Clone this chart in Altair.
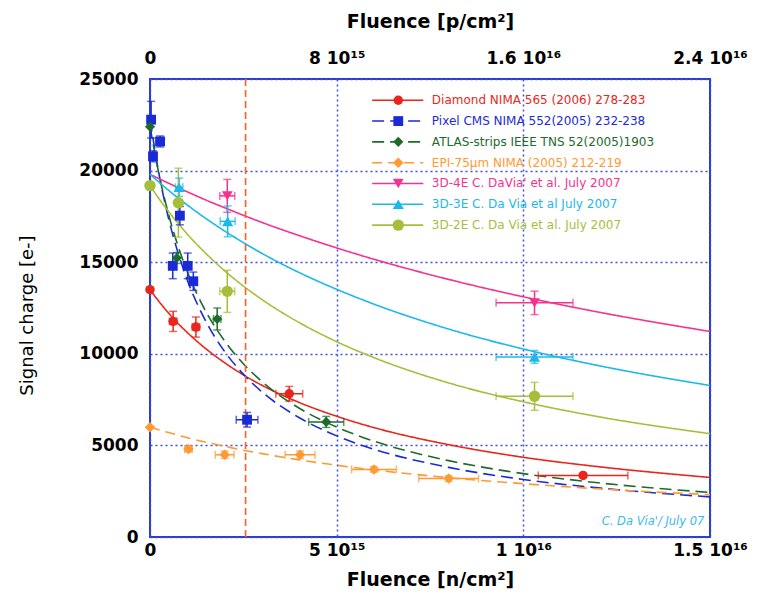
import altair as alt
import pandas as pd

# ---------------- data (fluence in units of 1e15 n/cm2, charge in e-) ----------------
E15 = 1e15

SERIES = [
    "Diamond NIMA 565 (2006) 278-283",
    "Pixel CMS NIMA 552(2005) 232-238",
    "ATLAS-strips IEEE TNS 52(2005)1903",
    "EPI-75µm NIMA (2005) 212-219",
    "3D-4E C. DaVia' et al. July 2007",
    "3D-3E C. Da Via et al July 2007",
    "3D-2E C. Da Via et al. July 2007",
]
COLORS = ["#e8261c", "#1a2bd6", "#1d6b2c", "#ff9a33", "#f4338f", "#1cb8ec", "#a6bf3a"]
SHAPES = ["circle", "square", "diamond", "diamond", "triangle-down", "triangle-up", "circle"]
DASHES = [[1, 0], [12, 6], [12, 6], [10, 6], [1, 0], [1, 0], [1, 0]]
MARKER_SIZES = [90, 130, 90, 70, 120, 110, 110]

# fitted curves
CURVE_X = [0, 0.25, 0.5, 0.75, 1, 1.5, 2, 2.5, 3, 4, 5, 6, 8, 10, 12, 15]
CURVE_DIAMOND = [13500, 12830, 12220, 11660, 11160, 10270, 9510, 8850, 8280, 7340, 6590, 5970, 5040, 4350, 3840, 3250]
CURVE_PIXEL = [22800, 19720, 17370, 15520, 14020, 11760, 10120, 8890, 7920, 6510, 5520, 4790, 3800, 3140, 2680, 2190]
CURVE_ATLAS = [22400, 19700, 17590, 15890, 14480, 12300, 10700, 9460, 8480, 7030, 6000, 5230, 4170, 3460, 2960, 2430]
CURVE_EPI = [6000, 5840, 5700, 5560, 5420, 5170, 4950, 4740, 4550, 4210, 3920, 3660, 3240, 2910, 2630, 2310]
CURVE_3D4E = [19800, 19550, 19310, 19070, 18840, 18390, 17970, 17560, 17170, 16450, 15780, 15160, 14060, 13110, 12280, 11220]
CURVE_3D3E = [19800, 19350, 18920, 18510, 18120, 17380, 16700, 16070, 15480, 14430, 13520, 12710, 11350, 10260, 9360, 8270]
CURVE_3D2E = [19180, 18440, 17760, 17130, 16530, 15470, 14530, 13700, 12960, 11700, 10660, 9790, 8410, 7380, 6570, 5640]

# measured points
DIAMOND_X = [0, 0.62, 1.23, 3.73, 11.6]
DIAMOND_Y = [13500, 11770, 11460, 7820, 3360]
DIAMOND_YERR = [0, 550, 550, 400, 0]
DIAMOND_XERR = [0, 0.1, 0.1, 0.36, 1.2]

PIXEL_X = [0.03, 0.27, 0.08, 0.8, 0.61, 1.01, 1.16, 2.6]
PIXEL_Y = [22780, 21590, 20780, 17540, 14800, 14800, 13960, 6400]
PIXEL_YERR = [1000, 300, 300, 500, 700, 700, 500, 400]
PIXEL_XERR = [0, 0.1, 0, 0, 0.05, 0.05, 0.05, 0.29]

ATLAS_X = [0, 0.72, 1.8, 4.72]
ATLAS_Y = [22400, 15230, 11900, 6280]
ATLAS_YERR = [0, 300, 600, 300]
ATLAS_XERR = [0, 0, 0.1, 0.47]

EPI_X = [0, 1.03, 2.0, 4.02, 6.0, 8.0]
EPI_Y = [5990, 4800, 4490, 4490, 3690, 3190]
EPI_YERR = [0, 150, 200, 200, 150, 150]
EPI_XERR = [0, 0.1, 0.25, 0.4, 0.6, 0.8]

D4E_X = [2.07, 10.3]
D4E_Y = [18620, 12780]
D4E_YERR = [900, 640]
D4E_XERR = [0.2, 1.03]

D3E_X = [0.78, 2.08, 10.3]
D3E_Y = [19090, 17230, 9830]
D3E_YERR = [500, 840, 350]
D3E_XERR = [0.1, 0.2, 1.03]

D2E_X = [0, 0.76, 2.07, 10.3]
D2E_Y = [19180, 18250, 13410, 7680]
D2E_YERR = [0, 1880, 1150, 760]
D2E_XERR = [0, 0.05, 0.2, 1.03]

VLINE_X = [2.56]

X_TICKS = [0, 5e15, 1e16, 1.5e16]
X_LABELS = ["0", "5 10¹⁵", "1 10¹⁶", "1.5 10¹⁶"]
P_TICKS = [0, 8e15, 1.6e16, 2.4e16]
P_LABELS = ["0", "8 10¹⁵", "1.6 10¹⁶", "2.4 10¹⁶"]
Y_TICKS = [0, 5000, 10000, 15000, 20000, 25000]

NOTE = "C. Da Via'/ July 07"

# ---------------- tables ----------------
curves = [CURVE_DIAMOND, CURVE_PIXEL, CURVE_ATLAS, CURVE_EPI, CURVE_3D4E, CURVE_3D3E, CURVE_3D2E]
curve_rows = []
for s, ys in zip(SERIES, curves):
    for i, (x, y) in enumerate(zip(CURVE_X, ys)):
        curve_rows.append({"series": s, "x": x * E15, "y": y, "i": i})
curve_df = pd.DataFrame(curve_rows)

pts = [
    (DIAMOND_X, DIAMOND_Y, DIAMOND_YERR, DIAMOND_XERR),
    (PIXEL_X, PIXEL_Y, PIXEL_YERR, PIXEL_XERR),
    (ATLAS_X, ATLAS_Y, ATLAS_YERR, ATLAS_XERR),
    (EPI_X, EPI_Y, EPI_YERR, EPI_XERR),
    (D4E_X, D4E_Y, D4E_YERR, D4E_XERR),
    (D3E_X, D3E_Y, D3E_YERR, D3E_XERR),
    (D2E_X, D2E_Y, D2E_YERR, D2E_XERR),
]
pt_rows = []
for s, (xs, ys, yes, xes) in zip(SERIES, pts):
    for x, y, ye, xe in zip(xs, ys, yes, xes):
        pt_rows.append({"series": s, "x": x * E15, "y": y,
                        "ylo": y - ye, "yhi": y + ye,
                        "xlo": (x - xe) * E15, "xhi": (x + xe) * E15,
                        "ye": ye, "xe": xe})
pt_df = pd.DataFrame(pt_rows)
yerr_df = pt_df[pt_df["ye"] > 0]
xerr_df = pt_df[pt_df["xe"] > 0]

leg_rows = []
for k, s in enumerate(SERIES):
    leg_rows.append({"series": s, "lx": 5.95 * E15, "lx2": 7.32 * E15, "lsym": 6.65 * E15,
                     "ltx": 7.55 * E15, "ly": 23840 - k * 1136})
leg_df = pd.DataFrame(leg_rows)


def label_expr(vals, labels):
    v = ",".join("%.0f" % t for t in vals)
    l = ",".join("'%s'" % t for t in labels)
    return "[%s][indexof([%s], datum.value)]" % (l, v)


# ---------------- encodings ----------------
GRID = dict(grid=True, gridColor="#3d4fe0", gridDash=[2, 3], gridWidth=1.5)
x_scale = alt.Scale(domain=[0, 1.5e16], nice=False)
y_scale = alt.Scale(domain=[0, 25000], nice=False)
x_axis = alt.Axis(values=X_TICKS, labelExpr=label_expr(X_TICKS, X_LABELS), title="Fluence [n/cm²]",
                  labelFlush=False, ticks=False, domain=False, labelPadding=5,
                  titleFontWeight="bold", titleFontSize=19, titleY=52, titleBaseline="bottom", **GRID)
y_axis = alt.Axis(values=Y_TICKS, format="d", title="Signal charge [e-]", ticks=False, domain=False,
                  labelPadding=12, titleFontWeight="normal", titleFontSize=18, titleX=-114, titleY=236,
                  titleAlign="center", titleBaseline="bottom", **GRID)

color = alt.Color("series:N", scale=alt.Scale(domain=SERIES, range=COLORS), legend=None)
dash = alt.StrokeDash("series:N", scale=alt.Scale(domain=SERIES, range=DASHES), legend=None)
shape = alt.Shape("series:N", scale=alt.Scale(domain=SERIES, range=SHAPES), legend=None)
size = alt.Size("series:N", scale=alt.Scale(domain=SERIES, range=MARKER_SIZES), legend=None)


def X(f):
    return alt.X(f, scale=x_scale, axis=x_axis)


def Y(f):
    return alt.Y(f, scale=y_scale, axis=y_axis)


lines = alt.Chart(curve_df).mark_line(strokeWidth=1.6, interpolate="monotone").encode(
    x=X("x:Q"), y=Y("y:Q"), color=color, strokeDash=dash, detail="series:N", order="i:Q")

vline = alt.Chart(pd.DataFrame({"x": [v * E15 for v in VLINE_X]})).mark_rule(
    color="#ff6020", strokeDash=[7, 4], strokeWidth=1.6).encode(x=X("x:Q"))

ybar = alt.Chart(yerr_df).mark_rule(strokeWidth=1.5).encode(x=X("x:Q"), y=Y("ylo:Q"), y2="yhi:Q", color=color)
ycap_lo = alt.Chart(yerr_df).mark_tick(orient="horizontal", size=8, thickness=1.5).encode(x=X("x:Q"), y=Y("ylo:Q"), color=color)
ycap_hi = alt.Chart(yerr_df).mark_tick(orient="horizontal", size=8, thickness=1.5).encode(x=X("x:Q"), y=Y("yhi:Q"), color=color)
xbar = alt.Chart(xerr_df).mark_rule(strokeWidth=1.5).encode(x=X("xlo:Q"), x2="xhi:Q", y=Y("y:Q"), color=color)
xcap_lo = alt.Chart(xerr_df).mark_tick(orient="vertical", size=8, thickness=1.5).encode(x=X("xlo:Q"), y=Y("y:Q"), color=color)
xcap_hi = alt.Chart(xerr_df).mark_tick(orient="vertical", size=8, thickness=1.5).encode(x=X("xhi:Q"), y=Y("y:Q"), color=color)

points = alt.Chart(pt_df).mark_point(filled=True, opacity=1).encode(
    x=X("x:Q"), y=Y("y:Q"), color=color, shape=shape, size=size)

leg_line = alt.Chart(leg_df).mark_rule(strokeWidth=1.6).encode(
    x=X("lx:Q"), x2="lx2:Q", y=Y("ly:Q"), color=color, strokeDash=dash)
leg_sym = alt.Chart(leg_df).mark_point(filled=True, opacity=1).encode(
    x=X("lsym:Q"), y=Y("ly:Q"), color=color, shape=shape, size=size)
leg_txt = alt.Chart(leg_df).mark_text(align="left", baseline="middle", font="DejaVu Sans", fontSize=12).encode(
    x=X("ltx:Q"), y=Y("ly:Q"), text="series:N", color=color)

note = alt.Chart(pd.DataFrame({"x": [14.85 * E15], "y": [830], "t": [NOTE]})).mark_text(
    align="right", baseline="middle", font="DejaVu Sans", fontSize=11.5, fontStyle="italic",
    color="#3db8ea").encode(x=X("x:Q"), y=Y("y:Q"), text="t:N")

bottom = alt.layer(lines, vline, ybar, ycap_lo, ycap_hi, xbar, xcap_lo, xcap_hi, points,
                   leg_line, leg_sym, leg_txt, note)

top_axis = alt.Axis(values=P_TICKS, labelExpr=label_expr(P_TICKS, P_LABELS), orient="top",
                    title="Fluence [p/cm²]", labelFlush=False, ticks=False, domain=False, grid=False,
                    labelPadding=12, titleFontWeight="bold", titleFontSize=19, titleY=-48,
                    titleBaseline="bottom")
top = alt.Chart(pd.DataFrame({"p": P_TICKS})).mark_point(opacity=0).encode(
    x=alt.X("p:Q", scale=alt.Scale(domain=[0, 2.4e16], nice=False), axis=top_axis))

chart = alt.layer(bottom, top).resolve_scale(x="independent").properties(
    width=560, height=458,
    padding={"left": 142, "top": 71, "right": 55, "bottom": 55},
    autosize=alt.AutoSizeParams(type="none"),
).configure_view(stroke="#2a3bd0", strokeWidth=2).configure_axis(
    labelFont="DejaVu Sans", labelFontSize=17, labelFontWeight="bold", labelColor="black",
    titleFont="DejaVu Sans", titleColor="black")

chart.save("out.html", embed_options={"renderer": "svg", "actions": False})
